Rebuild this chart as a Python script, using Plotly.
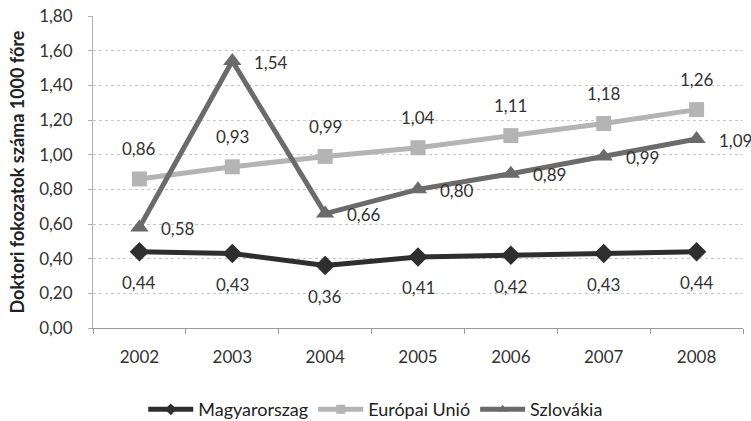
import plotly.graph_objects as go

# Doktori fokozatok száma 1000 főre, 2002–2008
years = ["2002", "2003", "2004", "2005", "2006", "2007", "2008"]
magyarorszag = [0.44, 0.43, 0.36, 0.41, 0.42, 0.43, 0.44]
europai_unio = [0.86, 0.93, 0.99, 1.04, 1.11, 1.18, 1.26]
szlovakia = [0.58, 1.54, 0.66, 0.80, 0.89, 0.99, 1.09]

FONT = "Lato, 'Open Sans', sans-serif"
C_HU = "#2e2e2e"
C_EU = "#b4b4b4"
C_SK = "#6b6b6b"

series = [
    ("Magyarorszag", magyarorszag, C_HU, "diamond", 15),
    ("Európai Unió", europai_unio, C_EU, "square", 15),
    ("Szlovákia", szlovakia, C_SK, "triangle-up", 16),
]


def fmt(v):
    return f"{v:.2f}".replace(".", ",")


fig = go.Figure()
for name, vals, col, sym, size in series:
    # plotted line
    fig.add_trace(go.Scatter(
        x=years, y=vals, name=name, mode="lines+markers", showlegend=False,
        line=dict(color=col, width=5),
        marker=dict(symbol=sym, size=size, color=col),
    ))
    # legend entry with a smaller marker
    fig.add_trace(go.Scatter(
        x=[None], y=[None], name=name, mode="lines+markers",
        line=dict(color=col, width=5),
        marker=dict(symbol=sym, size=9, color=col),
    ))

annotations = []
lab_font = dict(family=FONT, size=17, color="#333333")
for i, v in enumerate(magyarorszag):
    annotations.append(dict(x=i, y=v, text=fmt(v), showarrow=False,
                            yshift=-31, font=lab_font))
for i, v in enumerate(europai_unio):
    annotations.append(dict(x=i, y=v, text=fmt(v), showarrow=False,
                            yshift=30, font=lab_font))
for i, v in enumerate(szlovakia):
    annotations.append(dict(x=i, y=v, text=fmt(v), showarrow=False,
                            xanchor="left", xshift=20, yshift=-1, font=lab_font))

fig.update_layout(
    width=751, height=421,
    margin=dict(l=93, r=8, t=16, b=93, autoexpand=False),
    paper_bgcolor="white", plot_bgcolor="white",
    separators=", ",
    font=dict(family=FONT, size=17, color="#333333"),
    showlegend=True,
    legend=dict(orientation="h", x=0.435, xanchor="center",
                yref="container", y=0.027, yanchor="middle",
                font=dict(family=FONT, size=18, color="#222222"),
                itemwidth=45, tracegroupgap=0),
    annotations=annotations,
    xaxis=dict(
        type="category", showgrid=False,
        showline=True, linecolor="#9a9a9a", linewidth=1,
        ticks="outside", tickson="boundaries", ticklen=5, tickcolor="#9a9a9a",
        ticklabelstandoff=14,
        tickfont=dict(family=FONT, size=17, color="#333333"),
        range=[-0.5, 6.5],
    ),
    yaxis=dict(
        range=[0, 1.8], dtick=0.2, tickformat=".2f",
        showgrid=True, gridcolor="#c8c8c8", griddash="dot", gridwidth=1,
        showline=True, linecolor="#b0b0b0", linewidth=1,
        ticks="outside", ticklen=4, tickcolor="#b0b0b0",
        ticklabelstandoff=12,
        zeroline=False,
        tickfont=dict(family=FONT, size=17, color="#333333"),
        title=dict(text="<b>Doktori fokozatok száma 1000 főre</b>",
                   font=dict(family=FONT, size=18, color="#222222"), standoff=9),
    ),
)

fig.write_html("out.html")
